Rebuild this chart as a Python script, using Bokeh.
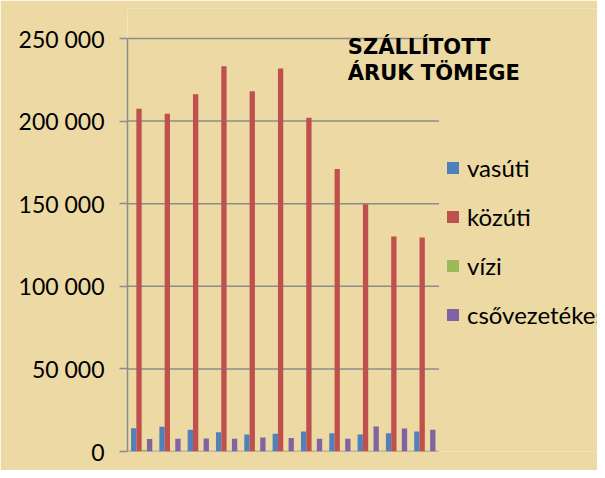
from bokeh.plotting import figure
from bokeh.models import (ColumnDataSource, Range1d, Legend, LegendItem,
                          Label, FixedTicker, CustomJSTickFormatter)
from bokeh.transform import dodge
from bokeh.embed import file_html
from bokeh.resources import INLINE

# ---- data ----
categories = [str(i) for i in range(1, 12)]
vasuti = [14100, 15000, 13200, 11700, 10300, 10700, 12100, 11100, 10300, 11100, 12100]
kozuti = [207500, 204500, 216200, 233200, 218000, 231800, 202000, 171000, 149600, 130200, 129600]
vizi = [1000, 300, 300, 300, 300, 300, 300, 300, 300, 300, 300]
csovezetekes = [7500, 7700, 7900, 7700, 8500, 8100, 7700, 7700, 15200, 13900, 13200]
series_names = ["vasúti", "közúti", "vízi", "csővezetékes"]
y_ticks = [0, 50000, 100000, 150000, 200000, 250000]
title_lines = ["SZÁLLÍTOTT", "ÁRUK TÖMEGE"]

colors = ["#4f81bd", "#c0504d", "#9bbb59", "#8064a2"]
bg = "#ecd9a3"
grid_col = "#8c8c8c"

n = len(categories)
xpos = [i + 0.5 for i in range(n)]
src = ColumnDataSource(dict(cat=categories, x=xpos, vasuti=vasuti, kozuti=kozuti,
                            vizi=vizi, cso=csovezetekes))

# layout in pixels
W, H = 597, 470
left, bottom_px, top_axis_px, top_frame_px = 127, 451, 38, 8
frame_w = W - left
group_px = 311.5 / n
y_max = max(y_ticks)
y_end = y_max * (bottom_px - top_frame_px) / (bottom_px - top_axis_px)

p = figure(x_range=Range1d(0, frame_w / group_px), y_range=Range1d(0, y_end),
           width=W, height=H, output_backend="svg", toolbar_location=None,
           min_border_left=left, min_border_right=0, min_border_top=top_frame_px,
           min_border_bottom=H - bottom_px)
p.background_fill_color = bg
p.border_fill_color = bg
p.outline_line_color = None

# horizontal grid lines limited to the category span
grid_src = ColumnDataSource(dict(x0=[0] * len(y_ticks), x1=[n] * len(y_ticks),
                                 y=y_ticks))
p.segment(x0="x0", x1="x1", y0="y", y1="y", source=grid_src,
          line_color=grid_col, line_width=1.5)

bw = 0.1875
offs = [-0.28125, -0.09375, 0.09375, 0.28125]
fields = ["vasuti", "kozuti", "vizi", "cso"]
rends = []
for f, o, c in zip(fields, offs, colors):
    r = p.vbar(x=dodge("x", o), top=f, width=bw, source=src,
               fill_color=c, line_color=None)
    rends.append(r)

# axes
p.yaxis.ticker = FixedTicker(ticks=y_ticks)
p.yaxis.bounds = (0, y_max)
p.yaxis.formatter = CustomJSTickFormatter(
    code='return tick.toString().replace(/\\B(?=(\\d{3})+(?!\\d))/g, " ");')
p.yaxis.major_label_text_font = "Lato"
p.yaxis.major_label_text_font_size = "23px"
p.yaxis.major_label_text_color = "black"
p.yaxis.axis_line_color = grid_col
p.yaxis.axis_line_width = 1.5
p.yaxis.major_tick_line_color = grid_col
p.yaxis.major_tick_line_width = 1.5
p.yaxis.major_tick_out = 8
p.yaxis.major_tick_in = 0
p.yaxis.minor_tick_line_color = None
p.yaxis.major_label_standoff = 15

p.xaxis.visible = False
p.xgrid.grid_line_color = None
p.ygrid.grid_line_color = None

# legend
legend = Legend(items=[LegendItem(label=s, renderers=[r]) for s, r in zip(series_names, rends)],
                location=(318, 122), orientation="vertical",
                glyph_width=15, glyph_height=15, label_standoff=7,
                label_text_font="Lato", label_text_font_size="24px",
                label_text_color="black", spacing=20, padding=0, margin=0,
                background_fill_alpha=0, border_line_color=None)
p.add_layout(legend, "center")

# title
for i, t in enumerate(title_lines):
    p.add_layout(Label(x=7.78, y=244900 - i * 15700, text=t, text_font="DejaVu Sans",
                       text_font_style="bold", text_font_size="21px",
                       text_color="black", text_baseline="alphabetic"))

open("out.html", "w").write(file_html(p, INLINE))
